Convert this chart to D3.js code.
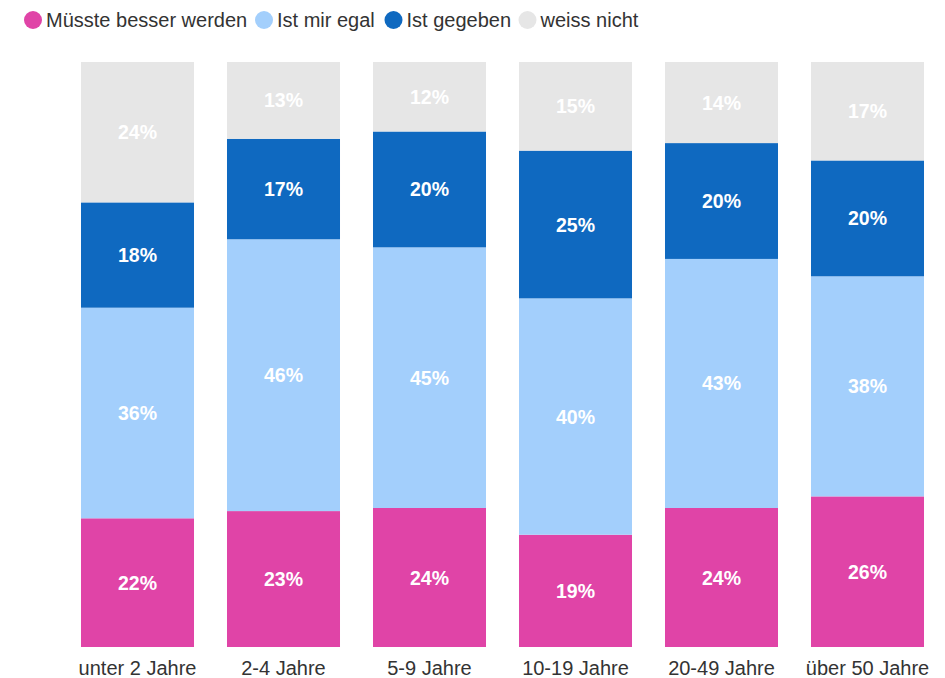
<!DOCTYPE html>
<html><head><meta charset="utf-8">
<script src="https://cdn.jsdelivr.net/npm/d3@7/dist/d3.min.js"></script>
<style>body{margin:0;background:#fff}svg{display:block}</style>
</head><body>
<script>
const categories = ["unter 2 Jahre","2-4 Jahre","5-9 Jahre","10-19 Jahre","20-49 Jahre","über 50 Jahre"];
const seriesNames = ["Müsste besser werden","Ist mir egal","Ist gegeben","weiss nicht"];
const muesste = [22,23,24,19,24,26];
const egal = [36,46,45,40,43,38];
const gegeben = [18,17,20,25,20,20];
const weissNicht = [24,13,12,15,14,17];
const colors = ["#e044a7","#a3cffc","#0f69c0","#e6e6e6"];

const W=945,H=678;
const svg=d3.select("body").append("svg").attr("width",W).attr("height",H);
const keys=["m","e","g","w"];
const rows=categories.map((c,i)=>({cat:c,m:muesste[i],e:egal[i],g:gegeben[i],w:weissNicht[i]}));
const stack=d3.stack().keys(keys).offset(d3.stackOffsetExpand)(rows);
const x=d3.scaleBand().domain(categories).range([64.5,940.5]).paddingInner(0.226).paddingOuter(0.113);
const y=d3.scaleLinear().domain([0,1]).range([647,62]);
const font="'Liberation Sans', Arial, sans-serif";

stack.forEach((layer,li)=>{
  const g=svg.append("g");
  g.selectAll("rect").data(layer).join("rect")
    .attr("x",d=>x(d.data.cat)).attr("width",x.bandwidth())
    .attr("y",d=>y(d[1])).attr("height",d=>y(d[0])-y(d[1]))
    .attr("fill",colors[li]);
  g.selectAll("text").data(layer).join("text")
    .attr("x",d=>x(d.data.cat)+x.bandwidth()/2)
    .attr("y",d=>(y(d[0])+y(d[1]))/2)
    .attr("dy","0.36em").attr("text-anchor","middle")
    .attr("fill","#fff").attr("font-family",font).attr("font-size",19.5).attr("font-weight","bold")
    .text(d=>d.data[keys[li]]+"%");
});

const xa=svg.append("g").attr("transform","translate(0,647)").call(d3.axisBottom(x).tickSize(0).tickPadding(14));
xa.select(".domain").remove();
xa.selectAll("text").attr("font-family",font).attr("font-size",20).attr("fill","#333");

const legX=[33,264,393.5,527.5];
const lg=svg.append("g");
seriesNames.forEach((n,i)=>{
  lg.append("circle").attr("cx",legX[i]).attr("cy",20).attr("r",9).attr("fill",colors[i]);
  lg.append("text").attr("x",legX[i]+13).attr("y",20).attr("dy","0.36em")
    .attr("font-family",font).attr("font-size",20).attr("fill","#333").text(n);
});
</script>
</body></html>
